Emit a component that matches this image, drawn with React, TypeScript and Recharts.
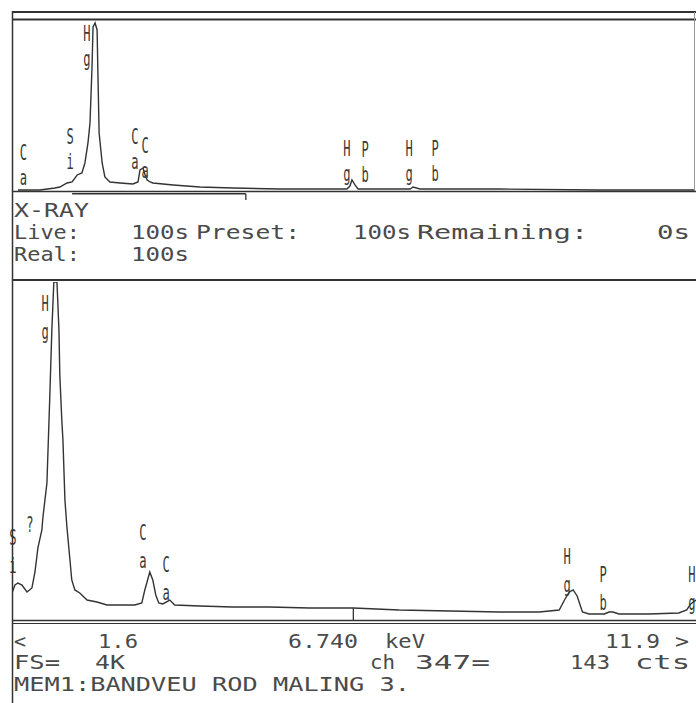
import React from "react";
import { LineChart, Line, XAxis, YAxis, ReferenceLine, ReferenceDot } from "recharts";

// upper window: whole spectrum 0-20 keV
const fullKeV = [
  0, 0.65, 1.09, 1.24, 1.45, 1.6, 1.75, 1.89, 1.98, 2.07, 2.13, 2.19, 2.22, 2.28, 2.34,
  2.37, 2.4, 2.49, 2.57, 2.72, 3.02, 3.4, 3.55, 3.61, 3.7, 3.76, 3.82, 3.91, 3.99, 4.59,
  5.38, 6.36, 7.75, 9.23, 9.73, 9.82, 9.88, 9.97, 10.06, 11.3, 11.6, 11.69, 11.89, 14.26,
  17.2, 20,
];
const fullCts = [
  0, 0, 48, 72, 169, 193, 362, 410, 651, 1133, 1615, 2964, 3928, 4025, 3856,
  2579, 1374, 651, 313, 193, 169, 145, 193, 482, 530, 362, 241, 193, 169, 121,
  72, 48, 24, 24, 24, 96, 241, 121, 24, 24, 24, 72, 24, 24,
  0, 0,
];

// lower window: expanded 1.6-11.9 keV
const zoomKeV = [
  1.6, 1.645, 1.69, 1.75, 1.826, 1.9, 1.946, 1.99, 2.05, 2.066, 2.126, 2.17, 2.2, 2.23,
  2.277, 2.307, 2.32, 2.35, 2.367, 2.397, 2.427, 2.47, 2.5, 2.547, 2.62, 2.73, 2.88,
  3.03, 3.22, 3.45, 3.555, 3.6, 3.675, 3.72, 3.765, 3.81, 3.87, 3.976, 4.05, 4.43, 4.92,
  5.48, 6.08, 6.74, 7.43, 8.19, 8.94, 9.54, 9.84, 9.92, 9.99, 10.05, 10.11, 10.19, 10.29,
  10.52, 10.59, 10.65, 10.74, 11.19, 11.64, 11.76, 11.82, 11.9,
];
const zoomCts = [
  327, 424, 448, 424, 339, 388, 582, 873, 1091, 1248, 1660, 2727, 3515, 4096,
  4096, 3515, 2970, 2424, 2182, 1454, 1127, 751, 485, 364, 327, 242, 218,
  182, 182, 182, 206, 364, 582, 485, 303, 206, 194, 242, 182, 170, 158,
  158, 145, 145, 121, 109, 97, 97, 121, 242, 339, 364, 291, 97, 73,
  73, 97, 97, 73, 73, 85, 121, 194, 242,
];

// peak labels, two stacked letters each
const fullLabTop = ["C", "S", "H", "C", "C", "H", "P", "H", "P"];
const fullLabBot = ["a", "i", "g", "a", "a", "g", "b", "g", "b"];
const fullLabKeV = [0.16, 1.54, 2.04, 3.46, 3.76, 9.73, 10.27, 11.57, 12.34];
const fullLabCts = [916, 1301, 3783, 1301, 1084, 1012, 988, 1012, 1012];

const zoomLabTop = ["S", "?", "H", "C", "C", "H", "P", "H"];
const zoomLabBot = ["i", "", "g", "a", "a", "g", "b", "g"];
const zoomLabKeV = [1.615, 1.87, 2.1, 3.57, 3.92, 9.96, 10.5, 11.84];
const zoomLabCts = [1006, 1163, 3839, 1067, 679, 776, 557, 557];

const cursorKeV = 6.74;
const cursorCts = 143;
const windowLo = 1.6;

const fullData = fullKeV.map((k, i) => ({ keV: k, cts: fullCts[i] }));
const zoomData = zoomKeV.map((k, i) => ({ keV: k, cts: zoomCts[i] }));

const INK = "#333";
const MONO = "'DejaVu Sans Mono', 'Liberation Mono', monospace";

const StackLabel = ({ cx, cy, top, bottom, gap }: any) => (
  <g transform={`translate(${cx},${cy}) scale(0.55,1)`} fill="#3a3a3a" fontFamily={MONO} fontSize={22}>
    <text x={0} y={8} textAnchor="middle">{top}</text>
    {bottom ? (
      <text x={0} y={8 + gap} textAnchor="middle">{bottom}</text>
    ) : null}
  </g>
);

const T = ({ x, y, w, children }: any) => (
  <text x={x} y={y} textLength={w} lengthAdjust="spacingAndGlyphs" fontFamily={MONO} fontSize={19} fill="#4a4a4a">
    {children}
  </text>
);

export default function App() {
  return (
    <div style={{ position: "absolute", left: 0, top: 0, width: 696, height: 703, background: "#fff", overflow: "hidden" }}>
      <div style={{ position: "absolute", left: 0, top: 0 }}>
        <LineChart width={696} height={200} data={fullData} margin={{ top: 20, right: 2, bottom: 0, left: 18 }}>
          <XAxis dataKey="keV" type="number" domain={[0, 20]} hide allowDataOverflow />
          <YAxis type="number" domain={[-241, 4096]} hide allowDataOverflow />
          <ReferenceLine segment={[{ x: windowLo, y: -90 }, { x: cursorKeV, y: -90 }]} stroke={INK} strokeWidth={1.3} />
          <ReferenceLine segment={[{ x: cursorKeV, y: -90 }, { x: cursorKeV, y: -241 }]} stroke={INK} strokeWidth={1.3} />
          <Line type="linear" dataKey="cts" stroke={INK} strokeWidth={1.4} dot={false} isAnimationActive={false} />
          {fullLabTop.map((t, i) => (
            <ReferenceDot
              key={i}
              x={fullLabKeV[i]}
              y={fullLabCts[i]}
              r={0}
              shape={(p: any) => <StackLabel cx={p.cx} cy={p.cy} top={t} bottom={fullLabBot[i]} gap={25} />}
            />
          ))}
        </LineChart>
      </div>
      <div style={{ position: "absolute", left: 0, top: 282 }}>
        <LineChart width={696} height={345} data={zoomData} margin={{ top: 0, right: 0, bottom: 0, left: 12 }}>
          <XAxis dataKey="keV" type="number" domain={[1.6, 11.9]} hide allowDataOverflow />
          <YAxis type="number" domain={[-85, 4096]} hide allowDataOverflow />
          <ReferenceLine segment={[{ x: cursorKeV, y: 0 }, { x: cursorKeV, y: cursorCts }]} stroke={INK} strokeWidth={1.3} />
          <Line type="linear" dataKey="cts" stroke={INK} strokeWidth={1.4} dot={false} isAnimationActive={false} />
          {zoomLabTop.map((t, i) => (
            <ReferenceDot
              key={i}
              x={zoomLabKeV[i]}
              y={zoomLabCts[i]}
              r={0}
              shape={(p: any) => <StackLabel cx={p.cx} cy={p.cy} top={t} bottom={zoomLabBot[i]} gap={28} />}
            />
          ))}
        </LineChart>
      </div>
      <svg width={696} height={703} style={{ position: "absolute", left: 0, top: 0, pointerEvents: "none" }}>
        <g stroke={INK}>
          <line x1={12} x2={696} y1={12} y2={12} strokeWidth={2} />
          <line x1={12} x2={696} y1={19.5} y2={19.5} strokeWidth={2} />
          <line x1={12.5} x2={12.5} y1={11} y2={703} strokeWidth={1.5} />
          <line x1={694.5} x2={694.5} y1={12} y2={192} strokeWidth={1} stroke="#999" />
          <line x1={12} x2={696} y1={191.5} y2={191.5} strokeWidth={1.5} />
          <line x1={12} x2={696} y1={280} y2={280} strokeWidth={2} />
          <line x1={12} x2={696} y1={620.5} y2={620.5} strokeWidth={1.5} />
          <line x1={12} x2={696} y1={623.5} y2={623.5} strokeWidth={1} />
        </g>
        <T x={14} y={217} w={75}>X-RAY</T>
        <T x={14} y={239} w={66}>Live:</T>
        <T x={131} y={239} w={58}>100s</T>
        <T x={196} y={239} w={104}>Preset:</T>
        <T x={353} y={239} w={58}>100s</T>
        <T x={417} y={239} w={171}>Remaining:</T>
        <T x={657} y={239} w={33}>0s</T>
        <T x={14} y={261} w={66}>Real:</T>
        <T x={131} y={261} w={58}>100s</T>
        <T x={14} y={648} w={12}>&lt;</T>
        <T x={98} y={648} w={40}>1.6</T>
        <T x={288} y={648} w={70}>6.740</T>
        <T x={385} y={648} w={40}>keV</T>
        <T x={605} y={648} w={55}>11.9</T>
        <T x={675} y={648} w={14}>&gt;</T>
        <T x={14} y={669} w={46}>FS=</T>
        <T x={95} y={669} w={30}>4K</T>
        <T x={370} y={669} w={25}>ch</T>
        <T x={415} y={669} w={75}>347=</T>
        <T x={570} y={669} w={40}>143</T>
        <T x={635} y={669} w={55}>cts</T>
        <T x={14} y={691} w={396}>MEM1:BANDVEU ROD MALING 3.</T>
      </svg>
    </div>
  );
}
